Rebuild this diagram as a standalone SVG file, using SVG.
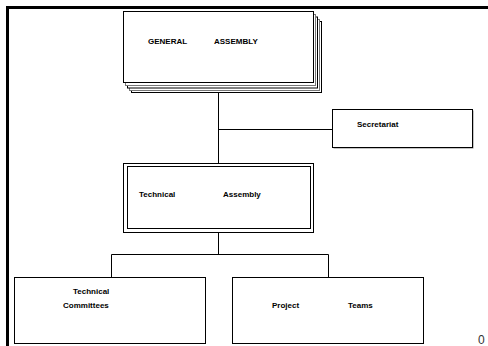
<svg xmlns="http://www.w3.org/2000/svg" width="488" height="346" viewBox="0 0 488 346">
<style>
.t{font-family:"Liberation Sans",Arial,sans-serif;font-weight:bold;font-size:8px;fill:#000}
.box{fill:#fff;stroke:#000;stroke-width:1}
.sh{fill:#fff;stroke-width:1}
.c{fill:none;stroke:#000;stroke-width:1}
</style>
<rect width="488" height="346" fill="#fff"/>
<path d="M7.5 346V7.5H488" fill="none" stroke="#000" stroke-width="3"/>
<g id="connectors">
<path class="c" d="M218.5 93V163M218.5 129.5H332.5M218.5 233V254.5M111.5 277V254.5H328.5V277"/>
</g>
<g id="general-assembly">
<rect class="sh" x="131.5" y="21.5" width="190" height="71" stroke="#000" stroke-width="1.5"/>
<rect class="sh" x="129.5" y="19.5" width="190" height="71" stroke="#777"/>
<rect class="sh" x="127.5" y="17" width="190" height="71" stroke="#000" stroke-width="1.5"/>
<rect class="sh" x="125.5" y="14.5" width="190" height="71" stroke="#777"/>
<rect class="box" x="123.5" y="11.5" width="190" height="71"/>
<text class="t" x="148" y="44" font-size="8.6">GENERAL</text>
<text class="t" x="214" y="44" font-size="8.6">ASSEMBLY</text>
</g>
<g id="secretariat">
<rect x="333.5" y="110.5" width="140" height="38" fill="#888"/>
<rect class="box" x="332.5" y="109.5" width="140" height="38"/>
<text class="t" x="357" y="127">Secretariat</text>
</g>
<g id="technical-assembly">
<rect class="box" x="123.5" y="163.5" width="190" height="69"/>
<rect class="box" x="127.5" y="166.5" width="183" height="62"/>
<text class="t" x="139" y="197">Technical</text>
<text class="t" x="223" y="197">Assembly</text>
</g>
<g id="technical-committees">
<rect class="box" x="14.5" y="277.5" width="191" height="66"/>
<text class="t" x="73" y="294">Technical</text>
<text class="t" x="63" y="308">Committees</text>
</g>
<g id="project-teams">
<rect class="box" x="232.5" y="277.5" width="191" height="66"/>
<text class="t" x="272" y="308">Project</text>
<text class="t" x="348" y="308">Teams</text>
</g>
<text x="478" y="344" font-family="Liberation Sans,Arial,sans-serif" font-size="12" fill="#333">0</text>
</svg>
